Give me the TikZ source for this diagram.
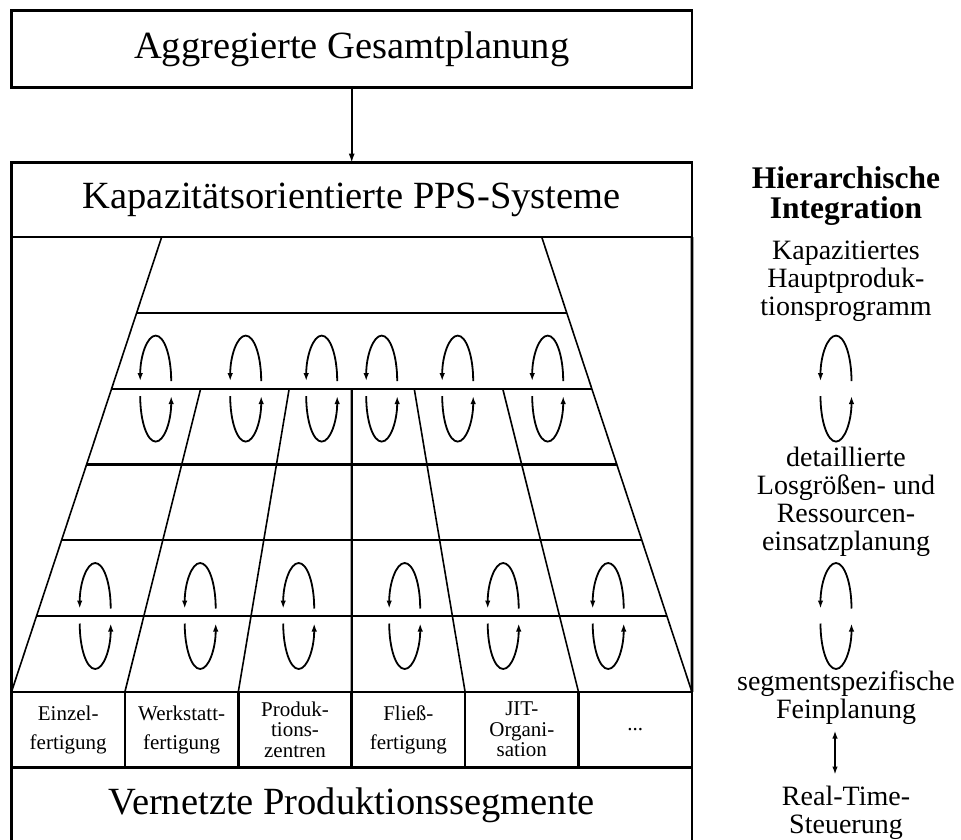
\documentclass[tikz,border=0pt]{standalone}
\usepackage{fontspec}
\setmainfont{Liberation Serif}
\usetikzlibrary{arrows.meta,positioning}

\tikzset{
  frame/.style={draw, line width=2.7pt, outer sep=0pt, inner sep=0pt},
  bigbox/.style={frame, minimum width=680.5pt, font=\fontsize{38.5}{40}\selectfont},
  segbox/.style={frame, minimum width=113.4pt, minimum height=75.3pt, align=center,
    font=\fontsize{21}{20.5}\selectfont, execute at begin node={\rule{0pt}{20pt}}},
  segtwo/.style={segbox, font=\fontsize{21}{29}\selectfont,
    execute at begin node={\rule{0pt}{28pt}}},
  gridline/.style={line width=2.2pt},
  slant/.style={line width=1.6pt},
  fbarc/.style={line width=1.8pt, -{Latex[length=8pt,width=5.5pt]}},
  level/.style={align=center, inner sep=0pt, font=\fontsize{28}{28}\selectfont},
}

% feedback loop around a level line: #1 = x, #2 = y of the line
\newcommand{\fbloop}[2]{%
  \draw[fbarc] ({#1+15.5},{#2-7.5}) arc[start angle=0, end angle=-180, x radius=15.5, y radius=45.5];
  \draw[fbarc] ({#1-15.5},{#2+7.5}) arc[start angle=180, end angle=0, x radius=15.5, y radius=45.5];
}
\def\cx{351.7}

\begin{document}
\begin{tikzpicture}[x=1pt,y=-1pt]
  \path[use as bounding box, fill=white] (0,0) rectangle (961,840);
  \clip (0,0) rectangle (961,840);

  % planning levels
  \node[bigbox, minimum height=76.6pt] (aggr) at (\cx,49) {Aggregierte Gesamtplanung};
  \node[bigbox, minimum height=74.3pt] (pps) at (\cx,199.85) {Kapazitätsorientierte PPS-Systeme};
  \draw[line width=1.6pt, -{Latex[length=9pt,width=6pt]}] (aggr) -- (pps);

  % segments
  \node[segtwo] (seg1) at (68.2,729.5) {Einzel-\\fertigung};
  \node[segtwo, right=0pt of seg1] (seg2) {Werkstatt-\\fertigung};
  \node[segbox, right=0pt of seg2] (seg3) {Produk-\\tions-\\zentren};
  \node[segtwo, right=0pt of seg3] (seg4) {Fließ-\\fertigung};
  \node[segbox, right=0pt of seg4] (seg5) {JIT-\\Organi-\\sation};
  \node[frame, minimum width=113.4pt, minimum height=75.3pt, font=\fontsize{21}{20.5}\selectfont,
    right=0pt of seg5] (seg6) {...};
  \node[bigbox, anchor=north west, minimum height=76pt] (netz) at (seg1.south west)
    {Vernetzte Produktionssegmente};

  \draw[frame] (pps.south west) -- (seg1.north west);
  \draw[frame] (pps.south east) -- (seg6.north east);

  % funnel grid
  \draw[slant] (\cx-190,237) -- (seg1.north west);
  \draw[slant] (\cx+190,237) -- (seg6.north east);
  \foreach \k in {1,...,5}
    \draw[gridline] ({\cx-190-25*\k},{237+75.8*\k}) -- ({\cx+190+25*\k},{237+75.8*\k});
  \draw[slant] (\cx-151,388.6) -- (seg1.north east);
  \draw[slant] (\cx-62.5,388.6) -- (seg2.north east);
  \draw[gridline] (\cx,388.6) -- (seg3.north east);
  \draw[slant] (\cx+62.5,388.6) -- (seg4.north east);
  \draw[slant] (\cx+151,388.6) -- (seg5.north east);

  \foreach \x in {-196,-106,-30,30,106,196}{
    \fbloop{\cx+\x}{388.6}
  }
  \foreach \x in {-256.5,-151.5,-53,53,151.5,256.5}{
    \fbloop{\cx+\x}{616}
  }

  % hierarchy column
  \node[level, font=\bfseries\fontsize{31.5}{30}\selectfont] (head) at (846,195.9)
    {Hierarchische\\Integration};
  \node[level] (kapprog) at (846,281.5) {Kapazitiertes\\Hauptproduk-\\tionsprogramm};
  \node[level] (losplan) at (846,502.2) {detaillierte\\Losgrößen- und\\Ressourcen-\\einsatzplanung};
  \node[level] (feinplan) at (846,697.5) {segmentspezifische\\Feinplanung};
  \node[level] (rts) at (846,812.5) {Real-Time-\\Steuerung};
  \fbloop{836}{388.6}
  \fbloop{836}{616}
  \draw[line width=2.2pt, {Latex[length=8pt,width=5.5pt]}-{Latex[length=8pt,width=5.5pt]}]
    ([xshift=-11pt,yshift=-6pt]feinplan.south) -- ([xshift=-11pt,yshift=11pt]rts.north);
\end{tikzpicture}
\end{document}
